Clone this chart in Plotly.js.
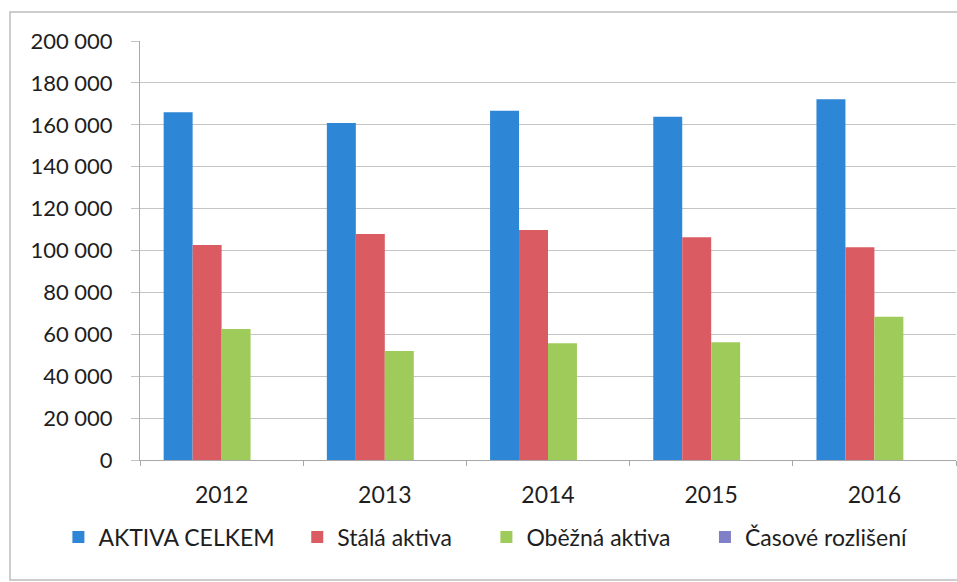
<!DOCTYPE html>
<html>
<head>
<meta charset="utf-8">
<script src="https://cdn.plot.ly/plotly-3.0.1.min.js"></script>
<style>html,body{margin:0;padding:0;background:#fff;}</style>
</head>
<body>
<div id="chart" style="width:957px;height:582px;"></div>
<script>
const years = ['2012', '2013', '2014', '2015', '2016'];
const seriesNames = ['AKTIVA CELKEM', 'Stálá aktiva', 'Oběžná aktiva', 'Časové rozlišení'];
const aktivaCelkem = [166000, 160900, 166700, 163900, 172200];
const stalaAktiva = [102600, 107900, 109800, 106300, 101500];
const obeznaAktiva = [62500, 52000, 55700, 56200, 68400];
const casoveRozliseni = [0, 0, 0, 0, 0];
const yTicks = [0, 20000, 40000, 60000, 80000, 100000, 120000, 140000, 160000, 180000, 200000];

const colors = ['#2D87D6', '#DB5B63', '#9FCB5B', '#8080C8'];
const values = [aktivaCelkem, stalaAktiva, obeznaAktiva, casoveRozliseni];
const legendPad = [3, 5, 5, 0];
const font = 'Lato, "Open Sans", sans-serif';

const traces = values.map((v, i) => ({
  type: 'bar',
  x: years,
  y: v,
  name: seriesNames[i] + '\u00a0'.repeat(legendPad[i]),
  marker: {color: colors[i], line: {width: 0}},
  hoverinfo: 'x+y+name'
}));

const layout = {
  width: 957,
  height: 582,
  margin: {l: 140, r: 1, t: 41, b: 122},
  paper_bgcolor: '#ffffff',
  plot_bgcolor: '#ffffff',
  separators: ', ',
  barmode: 'group',
  bargap: 0.29,
  bargroupgap: 0,
  font: {family: font, size: 22, color: '#1e1e1e'},
  xaxis: {
    type: 'category',
    showgrid: false,
    showline: true,
    linecolor: '#a8a8a8',
    linewidth: 1,
    ticks: 'outside',
    tickson: 'boundaries',
    ticklen: 5,
    tickcolor: '#a8a8a8',
    ticklabelstandoff: 14,
    tickfont: {family: font, size: 23, color: '#1e1e1e'},
    zeroline: false,
    fixedrange: true
  },
  yaxis: {
    range: [0, 200000],
    tickvals: yTicks,
    tickformat: ',d',
    showgrid: true,
    gridcolor: '#c4c4c4',
    gridwidth: 1,
    showline: true,
    linecolor: '#a8a8a8',
    linewidth: 1,
    ticks: 'outside',
    ticklen: 8,
    tickcolor: '#c4c4c4',
    ticklabelstandoff: 14,
    tickfont: {family: font, size: 22, color: '#1e1e1e'},
    zeroline: false,
    fixedrange: true
  },
  showlegend: true,
  legend: {
    orientation: 'h',
    x: -0.1,
    xanchor: 'left',
    y: -0.184,
    yanchor: 'middle',
    font: {family: font, size: 23, color: '#1e1e1e'},
    itemclick: false,
    itemdoubleclick: false,
    traceorder: 'normal'
  },
  shapes: [{
    type: 'rect',
    xref: 'paper', yref: 'paper',
    x0: (10 - 140) / 816, x1: (1000 - 140) / 816,
    y0: (460 - 580) / 419, y1: (460 - 12) / 419,
    line: {color: '#bdbdbd', width: 1.5},
    fillcolor: 'rgba(0,0,0,0)',
    layer: 'below'
  }]
};

Plotly.newPlot('chart', traces, layout, {displayModeBar: false, staticPlot: false});
</script>
</body>
</html>
